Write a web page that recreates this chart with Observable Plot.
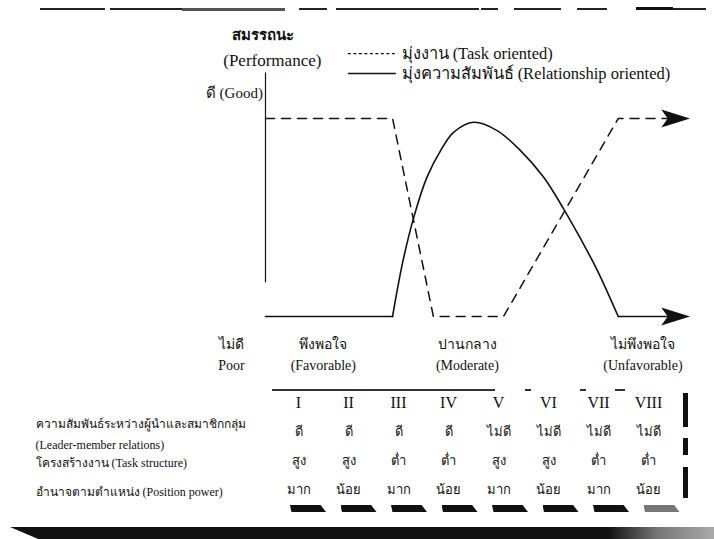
<!DOCTYPE html>
<html><head><meta charset="utf-8">
<script src="https://cdn.jsdelivr.net/npm/d3@7"></script>
<script src="https://cdn.jsdelivr.net/npm/@observablehq/plot@0.6"></script>
<style>
body{margin:0;background:#fff;}
#wrap{position:relative;width:714px;height:539px;overflow:hidden;background:#fff;}
#wrap svg{display:block;}
.art{position:absolute;background:#111;}
</style></head><body><div id="wrap"></div>
<script>
// ---------- data ----------
// Task-oriented leader (dashed): performance over situational favourability (0..100)
const taskX = [0, 29.9, 39.5, 56, 83, 96.5];
const taskY = [100, 100, 0, 0, 100, 100];
// Relationship-oriented leader (solid)
const relX = [0, 29.9, 32.2, 34.9, 38, 41.2, 44.3, 49, 54.5, 60, 65.5, 70.1, 74.1, 78.1, 83, 96.5];
const relY = [0, 0, 26.6, 50.2, 70.4, 83.8, 93.1, 98.1, 93.9, 83.8, 70.2, 54.5, 39.4, 23.2, 0, 0];

const legendLabels = ["มุ่งงาน (Task oriented)", "มุ่งความสัมพันธ์ (Relationship oriented)"];
const yTitle = ["สมรรถนะ", "(Performance)"];
const yGood = "ดี (Good)";
const xCategoryLabels = ["ไม่ดี\nPoor", "พึงพอใจ\n(Favorable)", "ปานกลาง\n(Moderate)", "ไม่พึงพอใจ\n(Unfavorable)"];
const xCategoryPos = [-8, 13.6, 47.5, 88.8];

const octants = ["I", "II", "III", "IV", "V", "VI", "VII", "VIII"];
const leaderMember = ["ดี", "ดี", "ดี", "ดี", "ไม่ดี", "ไม่ดี", "ไม่ดี", "ไม่ดี"];
const taskStructure = ["สูง", "สูง", "ต่ำ", "ต่ำ", "สูง", "สูง", "ต่ำ", "ต่ำ"];
const positionPower = ["มาก", "น้อย", "มาก", "น้อย", "มาก", "น้อย", "มาก", "น้อย"];
const rowLabels = [
  "ความสัมพันธ์ระหว่างผู้นำและสมาชิกกลุ่ม\n(Leader-member relations)",
  "โครงสร้างงาน (Task structure)",
  "อำนาจตามตำแหน่ง (Position power)"
];
const rowKeys = ["oct", "lmr", "ts", "pp"];

// ---------- build ----------
const serif = '"Liberation Serif", "DejaVu Serif", serif';
const ink = "#111";
const task = taskX.map((x, i) => ({x, y: taskY[i]}));
const rel = relX.map((x, i) => ({x, y: relY[i]}));
const relFlat = [
  {...rel[0], seg: "a"}, {...rel[1], seg: "a"},
  {...rel[rel.length - 2], seg: "b"}, {...rel[rel.length - 1], seg: "b"}
];
const relHump = rel.slice(1, rel.length - 1);
const arrowEnds = [task[task.length - 1], rel[rel.length - 1]];

const arrowHead = {
  draw(ctx, size) {
    const s = Math.sqrt(size / Math.PI) * 2;
    ctx.moveTo(s, 0);
    ctx.lineTo(-s, -s * 0.62);
    ctx.lineTo(-s * 0.55, 0);
    ctx.lineTo(-s, s * 0.62);
    ctx.closePath();
  }
};

const legendTaskY = 132.8, legendRelY = 122.7;

const chart = Plot.plot({
  width: 714, height: 385,
  marginLeft: 265, marginRight: 24, marginTop: 118, marginBottom: 69,
  x: {domain: [0, 100], axis: null},
  y: {domain: [0, 100], axis: null},
  style: {fontFamily: serif, background: "transparent", color: ink},
  marks: [
    Plot.ruleX([0], {y1: 17, y2: 123, stroke: ink, strokeWidth: 1.2}),
    Plot.line(task, {x: "x", y: "y", stroke: ink, strokeWidth: 1.5, strokeDasharray: "9,7"}),
    Plot.line(relFlat, {x: "x", y: "y", z: "seg", stroke: ink, strokeWidth: 1.6}),
    Plot.line(relHump, {x: "x", y: "y", curve: "catmull-rom", stroke: ink, strokeWidth: 1.6}),
    Plot.dot(arrowEnds, {x: "x", y: "y", symbol: arrowHead, r: 7.2, fill: ink, stroke: "none"}),
    // axis titles
    Plot.text([yTitle[0]], {x: [-0.7], y: [141.9], fontSize: 15, fontWeight: "bold"}),
    Plot.text([yTitle[1]], {x: [1.6], y: [129.3], fontSize: 17}),
    Plot.text([yGood], {x: [-0.6], y: [113], textAnchor: "end", fontSize: 15}),
    Plot.text(xCategoryLabels, {x: xCategoryPos, y: xCategoryPos.map(() => -18.4), fontSize: 14, lineHeight: 1.5}),
    // legend
    Plot.ruleY([legendTaskY], {x1: 19.5, x2: 30.8, stroke: ink, strokeWidth: 1.3, strokeDasharray: "3,2.5"}),
    Plot.ruleY([legendRelY], {x1: 19.5, x2: 30.8, stroke: ink, strokeWidth: 1.4}),
    Plot.text(legendLabels, {x: 32, y: [legendTaskY, legendRelY], textAnchor: "start", fontSize: 16.5})
  ]
});

const cells = [];
octants.forEach((o, i) => {
  cells.push({col: o, row: "oct", t: o});
  cells.push({col: o, row: "lmr", t: leaderMember[i]});
  cells.push({col: o, row: "ts", t: taskStructure[i]});
  cells.push({col: o, row: "pp", t: positionPower[i]});
});
const rowLab = rowLabels.map((t, i) => ({row: rowKeys[i + 1], t}));

const table = Plot.plot({
  width: 714, height: 154,
  marginLeft: 0, marginRight: 0, marginTop: 0, marginBottom: 0,
  x: {type: "band", domain: octants, range: [273, 673], padding: 0, axis: null},
  y: {type: "point", domain: rowKeys, range: [16, 105], padding: 0, axis: null},
  style: {fontFamily: serif, background: "transparent", color: ink},
  marks: [
    Plot.text(cells.filter(d => d.row === "oct"), {x: "col", y: "row", text: "t", fontSize: 16}),
    Plot.text(cells.filter(d => d.row !== "oct"), {x: "col", y: "row", text: "t", fontSize: 13}),
    Plot.text(rowLab, {y: "row", text: "t", frameAnchor: "left", dx: 35, textAnchor: "start", fontSize: 12, lineHeight: 1.8})
  ]
});

const wrap = document.getElementById("wrap");
wrap.appendChild(chart);
wrap.appendChild(table);

// scan artefacts (page edges / table rules)
function art(x, y, w, h, bg) {
  const d = document.createElement("div");
  d.className = "art";
  d.style.left = x + "px"; d.style.top = y + "px";
  d.style.width = w + "px"; d.style.height = h + "px";
  if (bg) d.style.background = bg;
  wrap.appendChild(d);
  return d;
}
[[40,105],[110,182],[299,327],[336,479],[481,498],[514,561],[577,607],[673,706]].forEach(([a,b]) => art(a, 8, b - a, 2, "#222"));
art(182, 8, 103, 3, "#555");
art(636, 7, 37, 3, "#111");
art(272, 389, 223, 2, "#333");
[[525,531],[580,586],[615,625]].forEach(([a,b]) => art(a, 389, b - a, 2, "#333"));
octants.forEach((o, i) => {
  const d = art(290 + i * 50.5, 505, 36, 7, i === 7 ? "#777" : "#111");
  d.style.clipPath = "polygon(0 0, 85% 0, 100% 100%, 4% 100%)";
});
[[393,427],[438,455],[467,498]].forEach(([a,b]) => art(683, a, 5, b - a, "#111"));
const bar = art(10, 527, 704, 12, "linear-gradient(90deg,#111 0%,#111 85%,#777 92%,#aaa 100%)");
bar.style.clipPath = "polygon(0 0, 100% 0, 100% 100%, 4% 100%)";
</script></body></html>
